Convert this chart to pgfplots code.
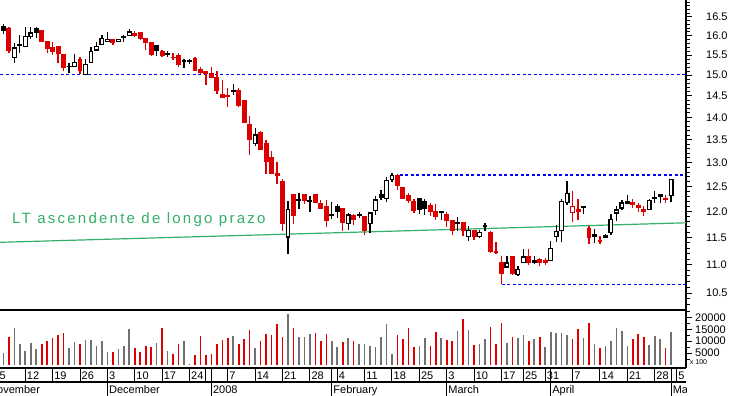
\documentclass[border=0pt]{standalone}
\usepackage{pgfplots}
\usepackage{pgfplotstable}
\pgfplotsset{compat=1.18}
\usepackage{fontspec}
\setmainfont{Liberation Sans}
\newfontfamily\spaced[LetterSpace=15]{Liberation Sans}
\definecolor{cred}{RGB}{221,0,0}
\definecolor{vgrey}{RGB}{112,112,112}
\definecolor{tgreen}{RGB}{50,175,105}
\definecolor{lblue}{RGB}{0,0,255}

\pgfplotstableread{
i o h l c t v vc
0 16.30 16.35 16.05 16.12 1 8000 1
1 16.24 16.30 16.05 16.14 3 5180 0
2 16.19 16.22 15.55 15.62 1 11900 1
3 15.44 15.80 15.30 15.68 2 15680 0
4 15.74 16.02 15.55 15.76 3 8680 0
5 15.72 16.22 15.70 15.98 2 6020 0
6 15.99 16.23 15.92 16.07 2 9100 0
7 16.20 16.24 15.94 16.08 3 6860 0
8 16.13 16.16 15.84 15.85 1 8960 1
9 15.84 15.85 15.55 15.67 1 10220 1
10 15.70 15.83 15.50 15.59 1 11480 1
11 15.73 15.74 15.30 15.55 1 12740 1
12 15.52 15.54 15.10 15.20 1 13580 1
13 15.21 15.30 15.05 15.22 3 7280 0
14 15.21 15.53 15.20 15.31 2 9660 0
15 15.40 15.46 15.02 15.12 1 8960 1
16 15.01 15.40 15.00 15.27 2 10360 0
17 15.32 15.71 15.30 15.59 2 10640 0
18 15.63 15.85 15.61 15.73 2 8120 0
19 15.78 16.03 15.77 15.92 2 10220 0
20 15.86 16.11 15.85 15.91 2 5600 0
21 15.90 15.91 15.75 15.83 1 5600 1
22 15.84 15.92 15.83 15.91 2 6580 0
23 15.95 16.03 15.85 15.97 3 8120 0
24 16.01 16.18 16.00 16.10 2 15260 0
25 16.06 16.12 15.98 16.02 1 7280 1
26 16.08 16.09 15.88 15.93 1 5600 1
27 15.93 15.94 15.62 15.82 1 8120 1
28 15.83 15.84 15.47 15.53 1 7700 1
29 15.74 15.75 15.48 15.61 3 9380 0
30 15.58 15.62 15.45 15.50 1 15680 1
31 15.51 15.61 15.45 15.53 3 6020 0
32 15.45 15.55 15.38 15.44 1 4760 1
33 15.48 15.55 15.19 15.28 1 8960 1
34 15.33 15.41 15.17 15.35 3 10080 0
35 15.33 15.40 15.28 15.35 3 500 0
36 15.41 15.45 15.10 15.11 1 4340 1
37 15.13 15.20 15.02 15.07 1 12320 1
38 15.10 15.11 14.76 15.04 1 4340 1
39 15.03 15.21 14.92 14.94 1 4760 1
40 14.94 15.11 14.55 14.63 1 8960 1
41 14.52 14.89 14.46 14.47 1 10640 1
42 14.50 14.69 14.25 14.48 1 11480 1
43 14.60 14.78 14.52 14.62 3 12320 0
44 14.62 14.70 14.23 14.27 1 8960 1
45 14.38 14.40 13.86 13.89 1 11060 1
46 13.83 14.03 13.16 13.51 1 14840 1
47 13.41 13.76 13.36 13.60 2 7280 0
48 13.66 13.68 13.28 13.29 1 10220 1
49 13.40 13.49 12.76 13.03 1 13160 1
50 13.10 13.25 12.76 12.77 1 12740 1
51 12.77 13.02 12.56 12.74 1 17360 1
52 12.61 12.66 11.62 11.76 1 11900 1
53 11.51 12.21 11.20 12.04 2 21560 0
54 12.33 12.34 11.76 11.93 1 15680 1
55 12.22 12.37 12.05 12.24 3 11900 0
56 12.33 12.34 12.15 12.22 1 11900 0
57 12.20 12.30 12.00 12.22 3 13160 0
58 12.33 12.34 12.17 12.18 1 13580 1
59 12.15 12.22 12.04 12.06 1 10220 1
60 12.10 12.23 11.70 11.83 1 13160 1
61 11.92 12.19 11.86 11.94 3 10220 0
62 12.10 12.14 11.88 12.00 3 7700 0
63 12.05 12.06 11.63 11.78 1 9800 1
64 11.76 11.97 11.65 11.93 2 11480 0
65 11.92 11.95 11.74 11.85 1 10220 1
66 11.92 12.00 11.88 11.94 3 8960 0
67 11.91 11.92 11.55 11.64 1 8960 0
68 11.76 12.00 11.59 11.97 2 7980 0
69 12.02 12.31 11.93 12.23 2 7560 0
70 12.29 12.42 12.22 12.33 2 11900 0
71 12.25 12.70 12.19 12.62 2 17360 0
72 12.64 12.78 12.60 12.73 2 4760 0
73 12.73 12.77 12.44 12.52 1 12740 1
74 12.48 12.49 12.24 12.25 1 11060 1
75 12.31 12.37 12.17 12.22 1 15680 1
76 12.20 12.25 11.97 12.03 1 7700 1
77 12.26 12.27 11.95 12.05 3 8120 0
78 12.20 12.25 11.94 12.07 3 11480 0
79 12.12 12.16 11.92 12.00 1 8120 1
80 12.00 12.14 11.84 11.91 1 14000 1
81 11.98 12.00 11.84 11.99 3 11480 0
82 11.93 12.00 11.70 11.82 1 10640 1
83 11.82 11.83 11.54 11.64 1 10220 1
84 11.77 11.89 11.62 11.79 3 14420 0
85 11.78 11.80 11.53 11.64 1 19460 1
86 11.52 11.72 11.44 11.64 2 14840 0
87 11.64 11.65 11.46 11.52 1 8540 1
88 11.52 11.64 11.49 11.59 2 8960 0
89 11.71 11.78 11.62 11.73 3 11060 0
90 11.60 11.62 11.22 11.24 1 16100 1
91 11.24 11.42 11.19 11.22 1 8960 1
92 11.03 11.16 10.65 10.84 1 17780 1
93 10.96 11.15 10.94 11.03 2 9380 0
94 11.14 11.16 10.82 10.84 1 11900 1
95 10.83 10.98 10.80 10.91 2 11480 0
96 11.04 11.28 11.03 11.14 2 12740 0
97 11.14 11.28 11.00 11.04 1 10220 1
98 11.05 11.16 11.02 11.07 3 11060 0
99 11.09 11.12 10.97 11.05 1 11900 1
100 11.07 11.12 11.00 11.05 1 7700 0
101 11.07 11.44 11.06 11.30 2 14000 0
102 11.52 11.73 11.42 11.62 2 13580 0
103 11.63 12.24 11.41 12.20 2 13580 0
104 12.18 12.62 12.13 12.36 2 12740 0
105 11.98 12.40 11.79 12.10 4 11060 1
106 12.01 12.25 11.83 12.04 4 15260 1
107 12.09 12.11 11.95 12.10 3 11480 0
108 11.66 11.72 11.38 11.51 1 17780 1
109 11.53 11.67 11.40 11.55 3 8960 0
110 11.45 11.53 11.38 11.43 1 7280 1
111 11.54 11.56 11.49 11.50 3 8120 0
112 11.60 11.95 11.55 11.85 2 10220 0
113 11.97 12.11 11.82 12.03 2 15680 0
114 12.07 12.23 12.03 12.17 2 14420 0
115 12.19 12.33 12.16 12.17 3 8120 0
116 12.18 12.25 12.07 12.15 1 11060 1
117 12.11 12.17 12.00 12.09 1 13160 1
118 12.03 12.11 11.91 12.00 1 11900 1
119 12.04 12.25 12.03 12.22 2 8540 0
120 12.28 12.41 12.17 12.25 3 12320 0
121 12.33 12.34 12.16 12.31 3 11060 0
122 12.26 12.33 12.17 12.24 1 7280 1
123 12.32 12.66 12.19 12.64 2 13860 0
}\cdata

\pgfplotsset{
  wick1/.style={draw=cred, line width=1.3pt},
  wick2/.style={draw=black, line width=1.3pt},
  wick3/.style={draw=black, line width=1.3pt},
  wick4/.style={draw=cred, line width=1.3pt},
  body1/.style={draw=cred, fill=cred, line width=1.2pt},
  body2/.style={draw=black, fill=white, line width=1.2pt},
  body3/.style={draw=black, fill=black, line width=1.2pt},
  body4/.style={draw=cred, fill=white, line width=1.2pt},
}

\begin{document}
\begin{tikzpicture}[x=1pt,y=1pt]
\useasboundingbox (0,0) rectangle (731,396);

% ---------------- price panel ----------------
\begin{axis}[
  at={(0pt,86pt)}, anchor=south west,
  width=686pt, height=310pt, scale only axis,
  xmin=0.378, xmax=125.72,
  ymode=log, ymin=10.214, ymax=16.965,
  axis x line=none, axis y line*=right,
  axis line style={line width=1.2pt},
  ytick={10.5,11,11.5,12,12.5,13,13.5,14,14.5,15,15.5,16,16.5},
  yticklabels={10.5,11.0,11.5,12.0,12.5,13.0,13.5,14.0,14.5,15.0,15.5,16.0,16.5},
  minor ytick={10.3,10.4,10.6,10.7,10.8,10.9,11.1,11.2,11.3,11.4,11.6,11.7,11.8,11.9,12.1,12.2,12.3,12.4,12.6,12.7,12.8,12.9,13.1,13.2,13.3,13.4,13.6,13.7,13.8,13.9,14.1,14.2,14.3,14.4,14.6,14.7,14.8,14.9,15.1,15.2,15.3,15.4,15.6,15.7,15.8,15.9,16.1,16.2,16.3,16.4,16.6,16.7,16.8,16.9},
  tick align=outside,
  major tick length=6pt, minor tick length=3.5pt,
  every tick/.style={black, line width=1pt},
  yticklabel style={font=\fontsize{11}{12}\selectfont, anchor=west, inner sep=0pt, xshift=14pt},
]
% reference lines
\addplot[lblue, line width=1.2pt, dash pattern=on 3pt off 2.5pt] coordinates {(0.378,15.02) (125.72,15.02)};
\addplot[lblue, line width=1.2pt, dash pattern=on 3pt off 2.5pt] coordinates {(73.4,12.74) (125.72,12.74)};
\addplot[lblue, line width=1.2pt, dash pattern=on 3pt off 2.5pt] coordinates {(92.05,10.65) (125.72,10.65)};
\addplot[tgreen, line width=1.2pt] coordinates {(0.378,11.41) (125.72,11.78)};
% candles
\pgfplotsinvokeforeach{0,...,123}{%
  \pgfplotstablegetelem{#1}{o}\of\cdata \let\vO\pgfplotsretval
  \pgfplotstablegetelem{#1}{h}\of\cdata \let\vH\pgfplotsretval
  \pgfplotstablegetelem{#1}{l}\of\cdata \let\vL\pgfplotsretval
  \pgfplotstablegetelem{#1}{c}\of\cdata \let\vC\pgfplotsretval
  \pgfplotstablegetelem{#1}{t}\of\cdata \let\vT\pgfplotsretval
  \pgfmathsetmacro\xa{#1-0.34}\pgfmathsetmacro\xb{#1+0.34}%
  \edef\doit{\noexpand\addplot[wick\vT] coordinates {(#1,\vL) (#1,\vH)};
    \noexpand\addplot[body\vT] coordinates {(\xa,\vO) (\xb,\vO) (\xb,\vC) (\xa,\vC)} --cycle;}%
  \doit
}
\end{axis}

% ---------------- volume panel ----------------
\begin{axis}[
  at={(0pt,28pt)}, anchor=south west,
  width=686pt, height=58pt, scale only axis,
  xmin=0.378, xmax=125.72,
  ymin=-1260, ymax=23100,
  axis x line=none, axis y line*=right,
  axis line style={line width=1.2pt},
  scaled y ticks=false,
  ytick={5000,10000,15000,20000},
  yticklabels={5000,10000,15000,20000},
  minor ytick={2500,7500,12500,17500,22500},
  tick align=outside,
  major tick length=6pt, minor tick length=3.5pt,
  every tick/.style={black, line width=1pt},
  yticklabel style={font=\fontsize{11}{12}\selectfont, anchor=west, inner sep=0pt, xshift=3pt},
]
\addplot[ycomb, draw=vgrey, line width=1.6pt, restrict expr to domain={\thisrow{vc}}{0:0}] table[x=i, y=v] {\cdata};
\addplot[ycomb, draw=cred, line width=1.6pt, restrict expr to domain={\thisrow{vc}}{1:1}] table[x=i, y=v] {\cdata};
\end{axis}

% frame lines
\draw[line width=1.2pt] (0,86) -- (686,86);
\draw[line width=1.2pt] (0,28) -- (686,28);
\draw[line width=1.2pt] (0,14) -- (686,14);
\node[font=\fontsize{7}{8}\selectfont, inner sep=0pt] at (698.5,34) {x 100};

% green annotation
\node[anchor=base west, inner sep=0pt, text=tgreen, font=\spaced\fontsize{15}{18}\selectfont] at (12,172) {LT ascendente de longo prazo};

% date axis
\begin{scope}
\clip (0,0) rectangle (686,28);
\foreach \i in {0,5,10,15,20,25,30,35,38,39,42,47,52,57,61,62,67,72,77,82,87,92,96,100,101,105,110,115,120,123,124}
  \draw[line width=1pt] ({-2.07+5.473*\i},14) -- ++(0,14);
\foreach \i in {20,39,61,82,101,123}
  \draw[line width=1pt] ({-2.07+5.473*\i},0) -- ++(0,14);
\foreach \i/\t in {0/5,5/12,10/19,15/26,20/3,25/10,30/17,35/24,42/7,47/14,52/21,57/28,62/4,67/11,72/18,77/25,82/3,87/10,92/17,96/25,100/31,105/7,110/14,115/21,120/28,124/5}
  \node[anchor=base west, inner sep=0pt, font=\fontsize{11}{12}\selectfont] at ({-2.07+5.473*\i+1.5},16.2) {\t};
\foreach \i/\t in {-1.9/November,20/December,39/2008,61/February,82/March,101/April,123/May}
  \node[anchor=base west, inner sep=0pt, font=\fontsize{11}{12}\selectfont] at ({-2.07+5.473*\i+1.5},2.8) {\t};
\end{scope}
\end{tikzpicture}
\end{document}
